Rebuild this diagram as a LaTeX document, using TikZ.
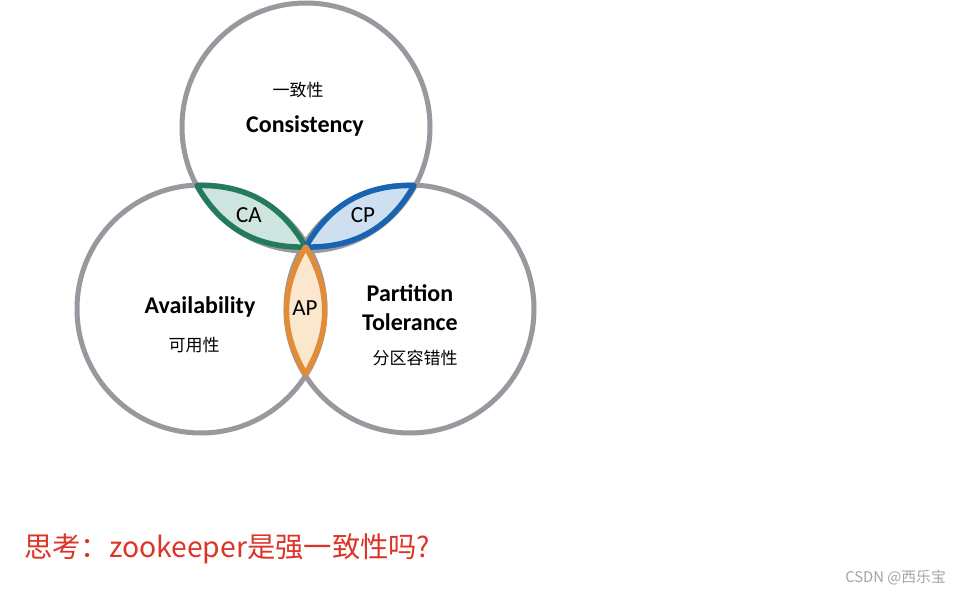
\documentclass[tikz,border=0pt]{standalone}
\usepackage{fontspec}
\setmainfont{Carlito}
\newfontfamily\cjk{Noto Sans CJK SC}
\definecolor{ringgrey}{RGB}{152,152,158}
\definecolor{cagreen}{RGB}{36,122,94}
\definecolor{cafill}{RGB}{206,229,223}
\definecolor{cpblue}{RGB}{24,100,176}
\definecolor{cpfill}{RGB}{206,223,241}
\definecolor{aporange}{RGB}{225,140,56}
\definecolor{apfill}{RGB}{250,231,206}
\definecolor{qred}{RGB}{222,52,40}
\definecolor{markgrey}{RGB}{165,165,165}
\tikzset{
  ring/.style={draw=ringgrey, line width=5pt},
  lens/.style={line width=5.5pt, line join=round},
  biglabel/.style={font=\fontsize{24}{28}\selectfont\bfseries, inner sep=0pt, align=center},
  pairlabel/.style={font=\fontsize{23}{27}\selectfont, inner sep=0pt},
  cnlabel/.style={font=\cjk\fontsize{17}{20}\selectfont, inner sep=0pt}
}
\begin{document}
\begin{tikzpicture}[x=1pt,y=-1pt]
\useasboundingbox (0,0) rectangle (962,594);
\fill[white] (0,0) rectangle (962,594);
% circle centres
\coordinate (T) at (306,127);
\coordinate (L) at (201,309);
\coordinate (R) at (410,309);
\coordinate (M) at (305.7,247);
\coordinate (tl) at (197,185.5);
\coordinate (tr) at (414,185.5);
\coordinate (lr) at (305.5,374);
\draw[ring] (T) circle (124);
\draw[ring] (L) circle (124);
\draw[ring] (R) circle (124);
% lenses
\draw[lens, draw=cagreen, fill=cafill] (tl) to[bend left=31] (M) to[bend left=31] (tl) -- cycle;
\draw[lens, draw=cpblue, fill=cpfill] (tr) to[bend left=31] (M) to[bend left=31] (tr) -- cycle;
\draw[lens, draw=aporange, fill=apfill] (lr) to[bend left=31] (M) to[bend left=31] (lr) -- cycle;
% labels
\node[cnlabel] (c1) at (298,90) {一致性};
\node[biglabel] (c2) at (305,126) {Consistency};
\node[pairlabel] (ca) at (249,215) {CA};
\node[pairlabel] (cp) at (363,215) {CP};
\node[pairlabel] (ap) at (305,308) {AP};
\node[biglabel] (a1) at (200,307) {Availability};
\node[cnlabel] (a2) at (194,345) {可用性};
\node[biglabel] (p1) at (410,293) {Partition};
\node[biglabel] (p2) at (410,322) {Tolerance};
\node[cnlabel] (p3) at (415,358) {分区容错性};
% question
\node[anchor=west, inner sep=0pt, text=qred, font=\cjk\fontsize{28.3}{32}\selectfont] (q) at (24,549) {思考：zookeeper是强一致性吗?};
\node[anchor=east, inner sep=0pt, text=markgrey, font=\cjk\fontsize{14.8}{17}\selectfont] (wm) at (946,578) {CSDN @西乐宝};
\end{tikzpicture}
\end{document}
